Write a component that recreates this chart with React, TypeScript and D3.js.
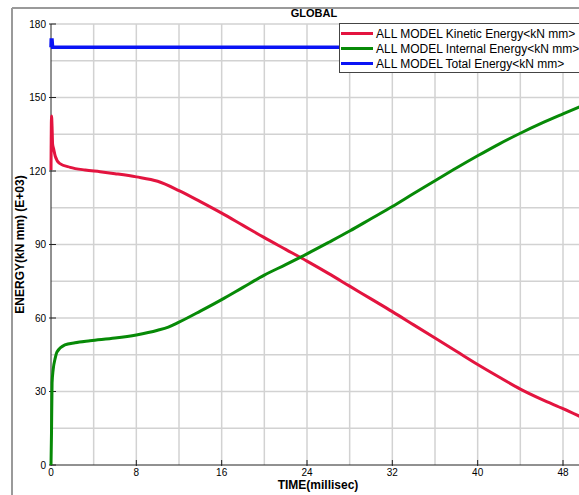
import React from 'react';
import * as d3 from 'd3';

// values (time in ms, energy in kN mm E+03)
const kineticTime = [0, 0.05, 0.1, 0.15, 0.25, 0.4, 0.8, 1.8, 3.2, 4.6, 6, 8, 10, 12, 14, 16, 18, 20, 22, 24, 26, 28, 30, 32, 34, 36, 38, 40, 42, 44, 46, 48, 50];
const kineticEnergy = [120.4, 142.4, 138, 131, 129, 126, 123.1, 121.5, 120.4, 119.7, 118.9, 117.6, 115.8, 112, 107.5, 102.8, 97.8, 92.8, 88, 83.2, 78.2, 73, 67.8, 62.6, 57.2, 51.8, 46.4, 41, 35.9, 31, 26.8, 23, 19];

const internalTime = [0, 0.05, 0.1, 0.2, 0.4, 0.56, 1.3, 2.25, 3.66, 6, 8, 10, 11, 12, 14, 16, 18, 20, 22, 24, 26, 28, 30, 32, 34, 36, 38, 40, 42, 44, 46, 48, 50];
const internalEnergy = [0, 14, 33.5, 38.8, 43.7, 46.1, 49, 49.9, 50.7, 51.8, 53.1, 55, 56.3, 58.3, 62.8, 67.5, 72.5, 77.5, 81.8, 86.2, 90.8, 95.5, 100.5, 105.5, 110.8, 116, 121.2, 126.2, 131, 135.4, 139.5, 143.3, 147];

const totalTime = [0, 0.02, 0.1, 0.15, 50];
const totalEnergy = [170.5, 173.5, 173.5, 170.5, 170.5];

const xTicks = [0, 8, 16, 24, 32, 40, 48];
const xGrid = [4, 8, 12, 16, 20, 24, 28, 32, 36, 40, 44, 48, 52];
const yTicks = [0, 30, 60, 90, 120, 150, 180];
const yGrid = [15, 30, 45, 60, 75, 90, 105, 120, 135, 150, 165, 180];

const seriesNames = [
  'ALL MODEL Kinetic Energy<kN mm>',
  'ALL MODEL Internal Energy<kN mm>',
  'ALL MODEL Total Energy<kN mm>',
];
const seriesColors = ['#e3143f', '#078a07', '#0a14f5'];

const font = 'Liberation Sans, Arial, sans-serif';

const App = () => {
  const width = 579;
  const height = 495;
  const left = 51;
  const top = 24;
  const bottom = 465;

  const x = d3.scaleLinear().domain([0, 48]).range([left, 563]);
  const y = d3.scaleLinear().domain([0, 180]).range([bottom, top]);

  const smooth = d3.line<[number, number]>()
    .x(d => x(d[0]))
    .y(d => y(d[1]))
    .curve(d3.curveMonotoneX);
  const straight = d3.line<[number, number]>()
    .x(d => x(d[0]))
    .y(d => y(d[1]));

  const kinetic = kineticTime.map((t, i) => [t, kineticEnergy[i]] as [number, number]);
  const internal = internalTime.map((t, i) => [t, internalEnergy[i]] as [number, number]);
  const total = totalTime.map((t, i) => [t, totalEnergy[i]] as [number, number]);

  return (
    <svg width={width} height={height} style={{ position: 'absolute', left: 0, top: 0, background: '#fff' }} fontFamily={font}>
      {/* outer frame */}
      <line x1={12} x2={width} y1={8} y2={8} stroke="#9a9a9a" strokeWidth={2} />
      <line x1={12} x2={12} y1={8} y2={height} stroke="#9a9a9a" strokeWidth={2} />
      <text x={314} y={17} textAnchor="middle" fontSize={11} fontWeight="bold">GLOBAL</text>

      {/* grid */}
      {yGrid.map(v => (
        <line key={'hy' + v} x1={left} x2={width} y1={y(v)} y2={y(v)} stroke="#d2d2d2" strokeWidth={1.5} />
      ))}
      {xGrid.map(v => (
        <line key={'vx' + v} x1={x(v)} x2={x(v)} y1={top} y2={bottom} stroke="#d2d2d2" strokeWidth={1.5} />
      ))}

      {/* axes */}
      <line x1={left} x2={left} y1={top} y2={bottom} stroke="#222" strokeWidth={1} />
      <line x1={left} x2={width} y1={bottom} y2={bottom} stroke="#222" strokeWidth={1} />
      {yTicks.map(v => (
        <g key={'yt' + v}>
          <line x1={left - 2} x2={left + 5} y1={y(v)} y2={y(v)} stroke="#222" />
          <text x={left - 5} y={y(v) + 3.5} textAnchor="end" fontSize={10}>{v}</text>
        </g>
      ))}
      {xTicks.map(v => (
        <g key={'xt' + v}>
          <line x1={x(v)} x2={x(v)} y1={bottom - 5} y2={bottom + 1} stroke="#222" />
          <text x={x(v)} y={bottom + 11} textAnchor="middle" fontSize={10}>{v}</text>
        </g>
      ))}

      {/* series */}
      <path d={straight(total) ?? ''} fill="none" stroke={seriesColors[2]} strokeWidth={3.5} />
      <path d={smooth(kinetic) ?? ''} fill="none" stroke={seriesColors[0]} strokeWidth={3} />
      <path d={smooth(internal) ?? ''} fill="none" stroke={seriesColors[1]} strokeWidth={3} />

      {/* axis titles */}
      <text x={318} y={489} textAnchor="middle" fontSize={12} fontWeight="bold">TIME(millisec)</text>
      <text transform={`translate(24, ${(top + bottom) / 2}) rotate(-90)`} textAnchor="middle" fontSize={12} fontWeight="bold">ENERGY(kN mm) (E+03)</text>

      {/* legend */}
      <rect x={339.5} y={23.5} width={260} height={49} fill="#fff" stroke="#444" strokeWidth={1} />
      {seriesNames.map((name, i) => (
        <g key={name}>
          <line x1={341} x2={373} y1={33.5 + i * 15} y2={33.5 + i * 15} stroke={seriesColors[i]} strokeWidth={3} />
          <text x={376} y={38 + i * 15} fontSize={12}>{name}</text>
        </g>
      ))}
    </svg>
  );
};

export default App;
